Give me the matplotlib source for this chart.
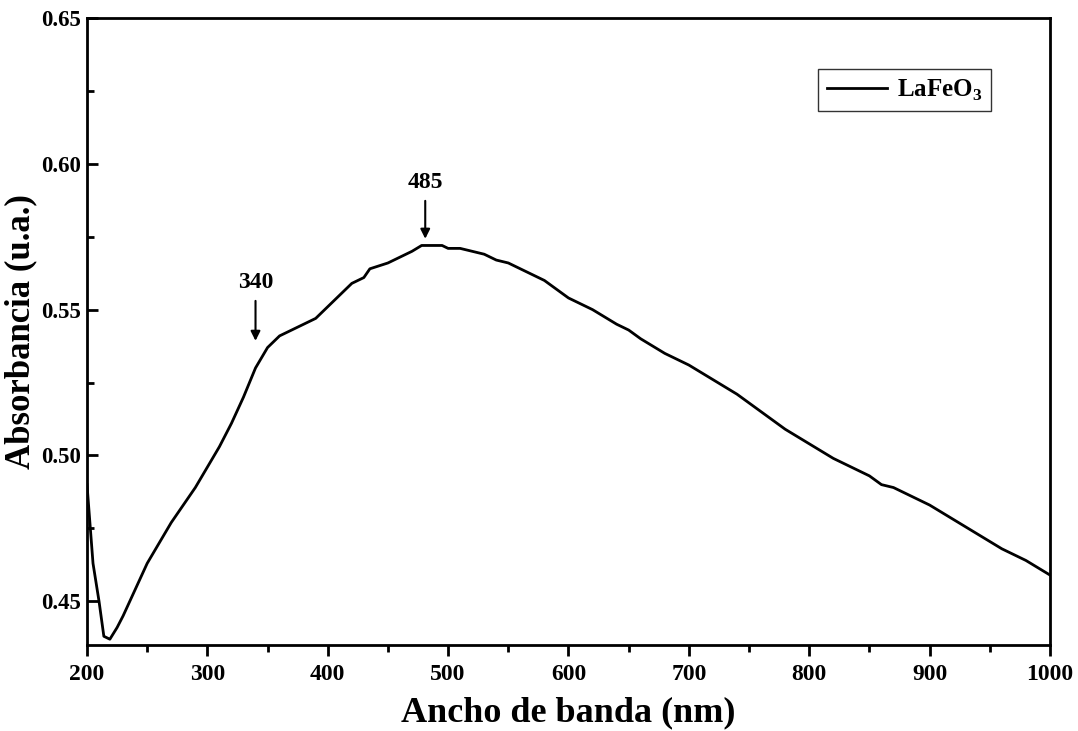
import numpy as np
import matplotlib
matplotlib.use('Agg')
import matplotlib.pyplot as plt
from matplotlib.ticker import MultipleLocator

# Absorbance spectrum of LaFeO3
wavelength = [200, 205, 210, 214, 219, 225, 230, 240, 250, 260, 270, 280, 290,
              300, 310, 320, 330, 340, 350, 360, 370, 380, 390, 400, 410, 420,
              430, 435, 450, 460, 470, 478, 495, 500, 510, 520, 530, 540, 550,
              560, 570, 580, 590, 600, 620, 640, 650, 660, 680, 700, 720, 740,
              750, 760, 780, 800, 820, 840, 850, 860, 870, 880, 900, 920, 940,
              960, 980, 1000]
absorbance = [0.490, 0.463, 0.450, 0.438, 0.437, 0.441, 0.445, 0.454, 0.463,
              0.470, 0.477, 0.483, 0.489, 0.496, 0.503, 0.511, 0.520, 0.530,
              0.537, 0.541, 0.543, 0.545, 0.547, 0.551, 0.555, 0.559, 0.561,
              0.564, 0.566, 0.568, 0.570, 0.572, 0.572, 0.571, 0.571, 0.570,
              0.569, 0.567, 0.566, 0.564, 0.562, 0.560, 0.557, 0.554, 0.550,
              0.545, 0.543, 0.540, 0.535, 0.531, 0.526, 0.521, 0.518, 0.515,
              0.509, 0.504, 0.499, 0.495, 0.493, 0.490, 0.489, 0.487, 0.483,
              0.478, 0.473, 0.468, 0.464, 0.459]

peak_labels = ['340', '485']
peak_x = [340, 481]
peak_text_y = [0.5592, 0.5935]
peak_tip_y = [0.5393, 0.5743]

plt.rcParams['font.family'] = ['Liberation Serif', 'DejaVu Serif']
plt.rcParams['font.weight'] = 'bold'
plt.rcParams['mathtext.fontset'] = 'custom'
plt.rcParams['mathtext.rm'] = 'Liberation Serif:bold'
plt.rcParams['mathtext.bf'] = 'Liberation Serif:bold'

fig = plt.figure(figsize=(10.78, 7.31), dpi=100)
ax = fig.add_axes([0.0807, 0.1176, 0.8933, 0.8578])

ax.plot(wavelength, absorbance, color='black', lw=2.0, label=r'LaFeO$_\mathregular{3}$')

for lab, xp, ty, tip in zip(peak_labels, peak_x, peak_text_y, peak_tip_y):
    ax.annotate('', xy=(xp, tip), xytext=(xp, ty - 0.0062),
                arrowprops=dict(arrowstyle='-|>', color='black', lw=1.5,
                                mutation_scale=14, shrinkA=0, shrinkB=0))
    ax.text(xp, ty, lab, ha='center', va='center', fontsize=17, fontweight='bold')

ax.set_xlim(200, 1000)
ax.set_ylim(0.435, 0.65)
ax.xaxis.set_major_locator(MultipleLocator(100))
ax.xaxis.set_minor_locator(MultipleLocator(50))
ax.yaxis.set_major_locator(MultipleLocator(0.05))
ax.yaxis.set_minor_locator(MultipleLocator(0.025))
ax.yaxis.set_major_formatter(matplotlib.ticker.FormatStrFormatter('%.2f'))

ax.tick_params(axis='x', which='major', direction='out', length=8, width=2, labelsize=17, pad=6)
ax.tick_params(axis='x', which='minor', direction='out', length=5, width=2)
ax.tick_params(axis='y', which='major', direction='in', length=8, width=2, labelsize=16.5, pad=4)
ax.tick_params(axis='y', which='minor', direction='in', length=5, width=2)
for lbl in ax.get_xticklabels() + ax.get_yticklabels():
    lbl.set_fontweight('bold')
for sp in ax.spines.values():
    sp.set_linewidth(2)

ax.set_xlabel('Ancho de banda (nm)', fontsize=26, fontweight='bold', labelpad=8)
ax.set_ylabel('Absorbancia (u.a.)', fontsize=25, fontweight='bold', labelpad=3)

leg = ax.legend(loc='upper right', bbox_to_anchor=(0.952, 0.939), fontsize=18,
                frameon=True, fancybox=False, handlelength=2.4, borderpad=0.35,
                handletextpad=0.4)
leg.get_frame().set_edgecolor('black')
leg.get_frame().set_linewidth(1.0)

fig.savefig('out.png', dpi=100)
